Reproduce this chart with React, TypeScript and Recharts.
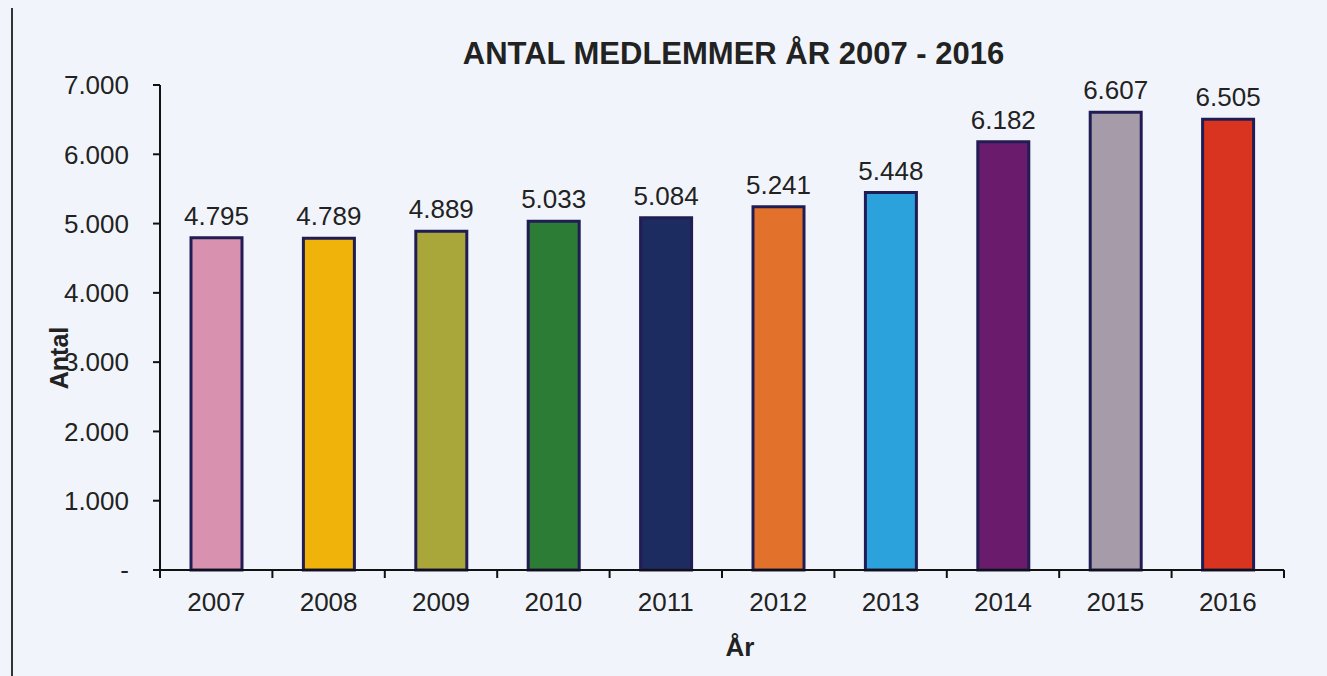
import { BarChart, Bar, XAxis, YAxis, Cell, LabelList } from "recharts"

const years = ["2007", "2008", "2009", "2010", "2011", "2012", "2013", "2014", "2015", "2016"]
const members = [4795, 4789, 4889, 5033, 5084, 5241, 5448, 6182, 6607, 6505]
const barColors = [
  "#d991b0",
  "#efb30a",
  "#a9a73a",
  "#2d7c35",
  "#1c2b60",
  "#e2722b",
  "#2ba2dc",
  "#6b1b6c",
  "#a69ca9",
  "#d9341f",
]
const yTicks = [0, 1000, 2000, 3000, 4000, 5000, 6000, 7000]

const chartData = years.map((year, i) => ({ year, members: members[i] }))

const font = "'Liberation Sans', Arial, sans-serif"
const textColor = "#222"

// danish thousands separator, "-" for zero like the excel original
const fmt = (v: number) => {
  if (v === 0) return "-"
  return String(v).replace(/\B(?=(\d{3})+(?!\d))/g, ".")
}

// tick marks sit between the categories, labels in the middle
const YearTick = ({ x, y, payload, index }: any) => {
  const half = payload?.offset ?? 56
  return (
    <g>
      <line x1={x - half} y1={y - 8} x2={x - half} y2={y} stroke="#111" strokeWidth={2} />
      {index === years.length - 1 && (
        <line x1={x + half} y1={y - 8} x2={x + half} y2={y} stroke="#111" strokeWidth={2} />
      )}
      <text x={x} y={y + 33} textAnchor="middle" fontSize={26} fill={textColor} fontFamily={font}>
        {payload.value}
      </text>
    </g>
  )
}

export default function App() {
  return (
    <div
      style={{
        position: "absolute",
        left: 0,
        top: 0,
        width: 1327,
        height: 676,
        background: "#f1f5fb",
        fontFamily: font,
        overflow: "hidden",
      }}
    >
      <div style={{ position: "absolute", left: 11, top: 8, width: 2, height: 668, background: "#333" }} />
      <div
        style={{
          position: "absolute",
          left: 0,
          width: 1467,
          top: 36,
          textAlign: "center",
          fontSize: 31,
          fontWeight: "bold",
          color: textColor,
        }}
      >
        ANTAL MEDLEMMER ÅR 2007 - 2016
      </div>
      <div
        style={{
          position: "absolute",
          left: 59,
          top: 358,
          transform: "translate(-50%, -50%) rotate(-90deg)",
          fontSize: 25,
          fontWeight: "bold",
          color: textColor,
          zIndex: 2,
        }}
      >
        Antal
      </div>
      <BarChart
        width={1327}
        height={676}
        data={chartData}
        margin={{ top: 85, right: 43, left: 100, bottom: 76 }}
      >
        <XAxis
          dataKey="year"
          height={30}
          tickLine={false}
          axisLine={{ stroke: "#111", strokeWidth: 2 }}
          tick={<YearTick />}
          interval={0}
          label={{
            value: "År",
            position: "insideBottom",
            offset: -56,
            dx: 18,
            fontSize: 26,
            fontWeight: "bold",
            fill: textColor,
            fontFamily: font,
          }}
        />
        <YAxis
          width={60}
          domain={[0, 7000]}
          ticks={yTicks}
          interval={0}
          tickFormatter={fmt}
          tickSize={7}
          tickMargin={24}
          tick={{ fontSize: 26, fill: textColor, fontFamily: font }}
          tickLine={{ stroke: "#111", strokeWidth: 2 }}
          axisLine={{ stroke: "#111", strokeWidth: 2 }}
        />
        <Bar
          dataKey="members"
          barSize={51}
          stroke="#221c55"
          strokeWidth={3}
          isAnimationActive={false}
        >
          {chartData.map((d, i) => (
            <Cell key={d.year} fill={barColors[i]} />
          ))}
          <LabelList
            dataKey="members"
            position="top"
            offset={13}
            formatter={(v: any) => fmt(Number(v))}
            style={{ fontSize: 26, fill: textColor, fontFamily: font }}
          />
        </Bar>
      </BarChart>
    </div>
  )
}
